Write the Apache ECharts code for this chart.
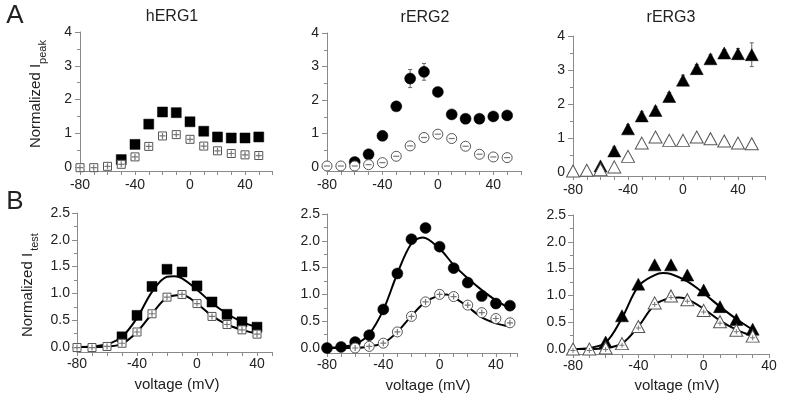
<!DOCTYPE html>
<html>
<head>
<meta charset="utf-8">
<script src="https://cdn.jsdelivr.net/npm/echarts@6/dist/echarts.min.js"></script>
<style>html,body{margin:0;padding:0;background:#fff}#c{width:787px;height:403px}</style>
</head>
<body>
<div id="c"></div>
<script>
// ---------- data ----------
const vA = [-80,-70,-60,-50,-40,-30,-20,-10,0,10,20,30,40,50];
const hERG1_peak_filled = [null,null,null,0.22,0.67,1.27,1.63,1.61,1.34,1.06,0.89,0.86,0.86,0.89];
const hERG1_peak_open   = [-0.02,-0.02,0.02,0.08,0.30,0.61,0.92,0.96,0.82,0.62,0.48,0.40,0.36,0.34];
const rERG2_peak_filled = [null,null,0.15,0.38,0.93,1.81,2.64,2.84,2.24,1.57,1.44,1.44,1.51,1.54];
const rERG2_peak_filled_err = [0,0,0,0,0,0,0.27,0.25,0,0,0,0,0,0];
const rERG2_peak_open   = [0.03,0.03,0.03,0.07,0.13,0.32,0.63,0.88,0.98,0.85,0.62,0.38,0.30,0.28];
const rERG3_peak_filled = [null,null,0.18,0.62,1.27,1.65,1.81,2.22,2.70,3.04,3.33,3.50,3.48,3.45];
const rERG3_peak_filled_err = [0,0,0,0.12,0.12,0.12,0.12,0.12,0.15,0.12,0.12,0.1,0.15,0.35];
const rERG3_peak_open   = [0.03,0.05,0.07,0.15,0.46,0.85,1.03,0.93,0.93,1.03,0.98,0.91,0.85,0.83];

const vB1 = [-80,-70,-60,-50,-40,-30,-20,-10,0,10,20,30,40];
const hERG1_test_filled = [null,null,null,0.19,0.59,1.13,1.45,1.40,1.14,0.84,0.61,0.47,0.37];
const hERG1_test_open   = [-0.01,-0.01,0.01,0.07,0.28,0.62,0.93,0.98,0.81,0.57,0.42,0.32,0.24];
const hERG1_fit_filled_x = [-80,-70,-60,-50,-40,-30,-20,-15,-10,0,10,20,30,40];
const hERG1_fit_filled_y = [0,0.01,0.05,0.19,0.54,1.03,1.31,1.32,1.28,1.07,0.82,0.62,0.47,0.37];
const hERG1_fit_open_x = [-80,-70,-60,-50,-40,-30,-20,-10,0,10,20,30,40];
const hERG1_fit_open_y = [0,0,0.01,0.06,0.28,0.62,0.92,0.97,0.81,0.58,0.42,0.32,0.25];

const vB2 = [-80,-70,-60,-50,-40,-30,-20,-10,0,10,20,30,40,50];
const rERG2_test_filled = [0,0.02,0.11,0.24,0.72,1.39,2.03,2.24,1.89,1.49,1.22,0.97,0.83,0.79];
const rERG2_test_open   = [null,null,0,0.03,0.09,0.30,0.59,0.86,1.00,0.96,0.80,0.66,0.55,0.47];
const rERG2_fit_filled_x = [-80,-70,-60,-50,-40,-30,-20,-12,0,10,20,30,40,50];
const rERG2_fit_filled_y = [0,0.02,0.07,0.26,0.71,1.39,1.95,2.06,1.85,1.55,1.30,1.08,0.89,0.74];
const rERG2_fit_open_x = [-80,-70,-60,-50,-40,-30,-20,-10,0,5,10,20,30,40,50];
const rERG2_fit_open_y = [0,0,0,0.03,0.09,0.30,0.60,0.86,0.98,1.00,0.95,0.77,0.57,0.46,0.40];

const vB3 = [-80,-70,-60,-50,-40,-30,-20,-10,0,10,20,30];
const rERG3_test_filled = [null,null,0.13,0.62,1.21,1.57,1.57,1.38,1.10,0.79,0.55,0.37];
const rERG3_test_open   = [0,0,0.02,0.10,0.42,0.86,0.99,0.92,0.72,0.51,0.35,0.24];
const rERG3_fit_filled_x = [-80,-70,-60,-50,-40,-30,-25,-20,-10,0,10,20,30];
const rERG3_fit_filled_y = [0,0.02,0.12,0.58,1.17,1.38,1.42,1.40,1.26,1.04,0.79,0.56,0.36];
const rERG3_fit_open_x = [-80,-70,-60,-50,-40,-30,-20,-15,-10,0,10,20,30];
const rERG3_fit_open_y = [0,0,0.02,0.10,0.42,0.82,0.95,0.96,0.93,0.75,0.53,0.36,0.24];

const titles = ['hERG1','rERG2','rERG3'];
const xTicksLabeled = [-80,-40,0,40];
const yTicksA = [0,1,2,3,4];
const yTicksB = [0,0.5,1.0,1.5,2.0,2.5];

// ---------- helpers ----------
const FONT = 'Liberation Sans, Arial, sans-serif';
const AX = '#8a8a8a';
const pts = (xs, ys) => xs.map((x,i) => ys[i] == null ? null : [x, ys[i]]).filter(Boolean);
const errPts = (xs, ys, es) => xs.map((x,i) => (ys[i] == null || !es[i]) ? null : [x, ys[i]-es[i], ys[i]+es[i]]).filter(Boolean);

const PLUS = 'path://M4,0h2v10h-2z M0,4h10v2h-10z';
const MINUS = 'path://M0,0h10v2h-10z';

function filled(gi, data, symbol, size, z) {
  return { type:'scatter', xAxisIndex:gi, yAxisIndex:gi, data, symbol, symbolSize:size, clip:false,
    itemStyle:{color:'#000', borderColor:'#000', borderWidth:0.5, opacity:1}, z:z||3, silent:true };
}
function hollow(gi, data, symbol, size, z) {
  return { type:'scatter', xAxisIndex:gi, yAxisIndex:gi, data, symbol, symbolSize:size, clip:false,
    itemStyle:{color:'#fff', borderColor:'#555', borderWidth:1, opacity:1}, z:z||4, silent:true };
}
function inner(gi, data, symbol, size) {
  return { type:'scatter', xAxisIndex:gi, yAxisIndex:gi, data, symbol, symbolSize:size, clip:false,
    itemStyle:{color:'#777', opacity:1}, z:5, silent:true };
}
function fit(gi, data) {
  return { type:'line', xAxisIndex:gi, yAxisIndex:gi, data, smooth:0.35, showSymbol:false, clip:false,
    lineStyle:{color:'#000', width:2}, z:2, silent:true };
}
function errBars(gi, data) {
  return { type:'custom', xAxisIndex:gi, yAxisIndex:gi, data, z:1, silent:true,
    renderItem(params, api) {
      const p1 = api.coord([api.value(0), api.value(1)]);
      const p2 = api.coord([api.value(0), api.value(2)]);
      const st = {stroke:'#666', lineWidth:1};
      return {type:'group', children:[
        {type:'line', shape:{x1:p1[0], y1:p1[1], x2:p2[0], y2:p2[1]}, style:st},
        {type:'line', shape:{x1:p1[0]-2, y1:p1[1], x2:p1[0]+2, y2:p1[1]}, style:st},
        {type:'line', shape:{x1:p2[0]-2, y1:p2[1], x2:p2[0]+2, y2:p2[1]}, style:st}
      ]};
    }};
}

// grids: [left, top, width, height, xmax]
const gridsDef = [
  [80, 32, 192.5, 135, 60],
  [327, 33, 194, 134, 60],
  [573, 36, 192.5, 136, 60],
  [77, 213, 195, 134, 50],
  [327, 214, 190, 134, 55],
  [573, 215, 196, 134, 40]
];

const grid = gridsDef.map(g => ({left:g[0], top:g[1], width:g[2], height:g[3], containLabel:false}));
const xAxis = gridsDef.map((g,i) => ({
  type:'value', gridIndex:i, min:-80, max:g[4], interval:10,
  offset: i < 3 ? 4 : 5,
  axisLine:{show:true, onZero:false, lineStyle:{color:AX, width:1}},
  axisTick:{show:true, length:4, lineStyle:{color:AX}},
  splitLine:{show:false},
  axisLabel:{fontFamily:FONT, fontSize:14, color:'#222', margin: i < 3 ? 7 : 5,
    formatter: v => xTicksLabeled.indexOf(v) >= 0 ? String(v) : ''}
}));
const yAxis = gridsDef.map((g,i) => {
  const isA = i < 3;
  const ticks = isA ? yTicksA : yTicksB;
  return {
    type:'value', gridIndex:i, min:ticks[0], max:ticks[ticks.length-1], interval: ticks[1]-ticks[0],
    axisLine:{show:true, onZero:false, lineStyle:{color:AX, width:1}},
    axisTick:{show:true, length:5, lineStyle:{color:AX}},
    minorTick:{show:true, splitNumber:2, length:3, lineStyle:{color:AX}},
    splitLine:{show:false}, minorSplitLine:{show:false},
    axisLabel:{fontFamily:FONT, fontSize:14, color:'#222', margin: isA ? 8 : 7,
      formatter: v => isA ? String(v) : v.toFixed(1)}
  };
});

const series = [
  // A1 hERG1
  filled(0, pts(vA, hERG1_peak_filled), 'rect', 10),
  hollow(0, pts(vA, hERG1_peak_open), 'rect', 8),
  inner(0, pts(vA, hERG1_peak_open), PLUS, 6),
  // A2 rERG2
  errBars(1, errPts(vA, rERG2_peak_filled, rERG2_peak_filled_err)),
  filled(1, pts(vA, rERG2_peak_filled), 'circle', 11),
  hollow(1, pts(vA, rERG2_peak_open), 'circle', 10),
  inner(1, pts(vA, rERG2_peak_open), MINUS, [6,1.2]),
  // A3 rERG3
  errBars(2, errPts(vA, rERG3_peak_filled, rERG3_peak_filled_err)),
  filled(2, pts(vA, rERG3_peak_filled), 'triangle', [13,12]),
  hollow(2, pts(vA, rERG3_peak_open), 'triangle', [13,12]),
  // B1 hERG1
  fit(3, pts(hERG1_fit_filled_x, hERG1_fit_filled_y)),
  fit(3, pts(hERG1_fit_open_x, hERG1_fit_open_y)),
  filled(3, pts(vB1, hERG1_test_filled), 'rect', 10),
  hollow(3, pts(vB1, hERG1_test_open), 'rect', 8),
  inner(3, pts(vB1, hERG1_test_open), PLUS, 6),
  // B2 rERG2
  fit(4, pts(rERG2_fit_filled_x, rERG2_fit_filled_y)),
  fit(4, pts(rERG2_fit_open_x, rERG2_fit_open_y)),
  filled(4, pts(vB2, rERG2_test_filled), 'circle', 11),
  hollow(4, pts(vB2, rERG2_test_open), 'circle', 10),
  inner(4, pts(vB2, rERG2_test_open), PLUS, 6),
  // B3 rERG3
  fit(5, pts(rERG3_fit_filled_x, rERG3_fit_filled_y)),
  fit(5, pts(rERG3_fit_open_x, rERG3_fit_open_y)),
  filled(5, pts(vB3, rERG3_test_filled), 'triangle', [13,12]),
  hollow(5, pts(vB3, rERG3_test_open), 'triangle', [13,12]),
  inner(5, pts(vB3, rERG3_test_open).map(p => [p[0], p[1]-0.03]), PLUS, 5)
];

function txt(x, y, text, size, rot) {
  return {type:'text', x, y, rotation: rot || 0, silent:true,
    style:{text, font: size + 'px ' + FONT, fill:'#222', align:'center', verticalAlign:'middle',
      textAlign:'center', textVerticalAlign:'middle'}};
}
const R = Math.PI/2;
const graphic = [
  txt(15, 16, 'A', 26),
  txt(15, 202, 'B', 26),
  txt(172, 17, titles[0], 16),
  txt(425, 18, titles[1], 16),
  txt(671, 18, titles[2], 16),
  txt(36, 106, 'Normalized I', 15, R),
  txt(43, 52, 'peak', 11, R),
  txt(28, 295, 'Normalized I', 15, R),
  txt(35, 242, 'test', 11, R),
  txt(177, 385, 'voltage (mV)', 15),
  txt(428, 386, 'voltage (mV)', 15),
  txt(677, 386, 'voltage (mV)', 15)
];

const chart = echarts.init(document.getElementById('c'), null, {renderer:'canvas'});
chart.setOption({animation:false, backgroundColor:'#fff', grid, xAxis, yAxis, series, graphic});
</script>
</body>
</html>
